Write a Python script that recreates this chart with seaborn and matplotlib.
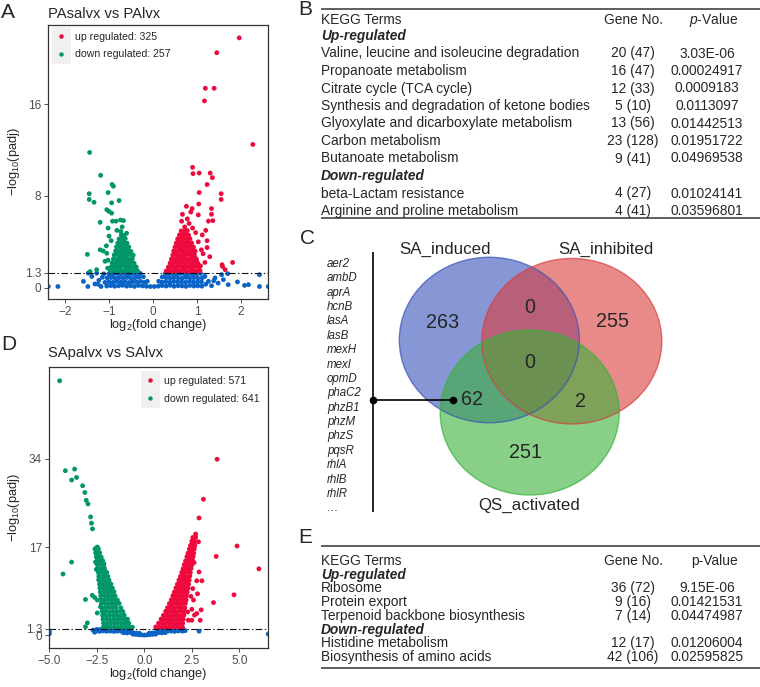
import matplotlib
matplotlib.use("Agg")
import matplotlib.pyplot as plt
import seaborn as sns
import pandas as pd
from matplotlib.patches import Ellipse, Rectangle
from matplotlib.lines import Line2D

# ---------------- data: panel A (PAsalvx vs PAlvx) ----------------
A_ns_x = [-1.05, -0.96, -0.87, -0.78, -0.69, -0.60, -0.51, -0.42, -0.33, -0.24, -0.15, -0.06, 0.03, 0.12, 0.21, 0.30, 0.39, 0.48, 0.57, 0.66, 0.75, 0.84, 0.93, 1.02, 1.11,
          -1.00, -0.91, -0.82, -0.73, -0.64, -0.55, -0.46, -0.37, -0.28, -0.19, -0.13, 0.13, 0.20, 0.29, 0.38, 0.47, 0.56, 0.65, 0.74, 0.83, 0.92, 1.01, 1.10,
          -1.04, -0.95, -0.86, -0.77, -0.68, -0.59, -0.50, -0.41, -0.32, -0.22, 0.21, 0.30, 0.39, 0.48, 0.57, 0.66, 0.75, 0.84, 0.93, 1.02, 1.12,
          -1.00, -0.91, -0.82, -0.73, -0.64, -0.55, -0.46, -0.37, -0.29, 0.28, 0.36, 0.45, 0.54, 0.63, 0.72, 0.81, 0.90, 0.99, 1.08,
          -2.38, -2.16, -1.58, -1.48, -1.39, -1.32, -1.28, -1.23, -1.18, -1.09, -1.47, -1.15, -1.25, -1.12,
          1.18, 1.26, 1.33, 1.41, 1.48, 1.56, 1.70, 1.71, 1.92, 2.08, 2.17, 2.42, 2.42, 2.62, 1.20, 1.38, 1.60]
A_ns_y = [0.14, 0.18, 0.12, 0.16, 0.20, 0.13, 0.17, 0.11, 0.19, 0.15, 0.12, 0.10, 0.10, 0.13, 0.18, 0.14, 0.20, 0.12, 0.17, 0.15, 0.11, 0.19, 0.14, 0.16, 0.13,
          0.50, 0.46, 0.53, 0.48, 0.52, 0.45, 0.51, 0.49, 0.54, 0.47, 0.55, 0.56, 0.48, 0.52, 0.46, 0.53, 0.49, 0.51, 0.47, 0.54, 0.50, 0.48, 0.52,
          0.85, 0.88, 0.82, 0.87, 0.84, 0.89, 0.81, 0.86, 0.90, 0.95, 0.93, 0.86, 0.83, 0.88, 0.85, 0.82, 0.89, 0.84, 0.87, 0.83, 0.86,
          1.20, 1.17, 1.23, 1.19, 1.22, 1.16, 1.21, 1.18, 1.24, 1.22, 1.18, 1.21, 1.16, 1.23, 1.19, 1.22, 1.17, 1.20, 1.24,
          0.10, 0.10, 0.55, 0.10, 0.98, 0.32, 1.27, 0.64, 0.10, 0.46, 1.27, 0.90, 0.30, 1.20,
          0.98, 0.55, 0.17, 0.84, 0.40, 1.13, 1.22, 0.26, 0.50, 0.20, 0.26, 1.13, 0.10, 0.10, 0.30, 0.60, 0.70]

A_down_x = [-1.44, -1.19, -1.45, -1.45, -1.34, -0.93, -0.90, -1.02, -0.77, -0.94, -1.05, -1.00, -0.94, -1.20, -1.02,
            -0.92, -0.84, -0.74, -0.67, -0.70, -0.73, -1.00, -1.49, -1.13, -1.06, -1.09, -1.02, -1.20, -1.43, -1.28,
            -1.03, -0.82, -0.60, -0.95, -1.05,
            -0.97, -0.90, -0.83, -0.76, -0.69, -0.62, -0.55, -0.48, -0.41, -0.35,
            -0.95, -0.87, -0.80, -0.73, -0.66, -0.59, -0.52, -0.45, -0.38,
            -0.93, -0.85, -0.78, -0.71, -0.64, -0.57, -0.50, -0.43,
            -0.90, -0.82, -0.75, -0.68, -0.61, -0.54, -0.47,
            -0.88, -0.80, -0.73, -0.66, -0.59, -0.52, -0.45,
            -0.85, -0.78, -0.71, -0.64, -0.57, -0.50,
            -0.83, -0.76, -0.69, -0.62, -0.55,
            -0.80, -0.73, -0.66, -0.59,
            -0.77, -0.70, -0.63,
            -0.72, -0.66]
A_down_y = [11.8, 9.8, 8.2, 7.7, 7.45, 9.0, 8.85, 8.3, 7.6, 7.4, 6.8, 6.65, 6.5, 5.7, 5.2,
            5.8, 5.8, 5.9, 5.85, 5.3, 4.9, 4.5, 2.9, 3.2, 3.65, 2.3, 2.4, 3.3, 1.4, 1.57,
            1.7, 5.0, 4.75, 4.1, 3.0,
            1.45, 1.50, 1.42, 1.48, 1.44, 1.52, 1.46, 1.41, 1.50, 1.47,
            1.80, 1.84, 1.77, 1.82, 1.86, 1.79, 1.83, 1.78, 1.81,
            2.15, 2.12, 2.18, 2.14, 2.19, 2.11, 2.16, 2.13,
            2.50, 2.47, 2.53, 2.49, 2.52, 2.46, 2.51,
            2.85, 2.88, 2.82, 2.87, 2.84, 2.89, 2.83,
            3.20, 3.17, 3.23, 3.19, 3.22, 3.16,
            3.55, 3.58, 3.52, 3.57, 3.54,
            3.90, 3.87, 3.93, 3.88,
            4.25, 4.22, 4.28,
            4.60, 4.55]

A_up_x = [1.96, 1.45, 1.19, 1.39, 1.17, 2.27, 0.90, 0.91, 1.05, 1.30, 1.35, 1.23, 1.05, 1.55, 0.76,
          0.89, 0.86, 1.04, 1.33, 1.55, 1.33, 1.36, 1.26, 1.03, 0.67, 0.65, 0.82, 1.20, 1.23, 1.23,
          1.29, 1.57, 1.81, 1.64, 1.14, 1.10, 1.03, 0.99, 1.58, 0.72, 0.90, 0.78, 1.12, 0.97, 1.18, 1.08,
          0.30, 0.37, 0.44, 0.51, 0.58, 0.65, 0.72, 0.79, 0.86, 0.93, 1.00, 1.07,
          0.35, 0.42, 0.49, 0.56, 0.63, 0.70, 0.77, 0.84, 0.91, 0.98, 1.05,
          0.39, 0.46, 0.53, 0.60, 0.67, 0.74, 0.81, 0.88, 0.95, 1.02,
          0.42, 0.49, 0.56, 0.63, 0.70, 0.77, 0.84, 0.91, 0.98,
          0.45, 0.52, 0.59, 0.66, 0.73, 0.80, 0.87, 0.94,
          0.47, 0.54, 0.61, 0.68, 0.75, 0.82, 0.89, 0.96,
          0.50, 0.57, 0.64, 0.71, 0.78, 0.85, 0.92,
          0.53, 0.60, 0.67, 0.74, 0.81, 0.88,
          0.56, 0.63, 0.70, 0.77, 0.84,
          0.60, 0.67, 0.74, 0.81,
          0.64, 0.71, 0.78]
A_up_y = [21.8, 20.5, 17.4, 17.4, 16.3, 12.5, 10.5, 9.95, 10.0, 10.0, 9.6, 9.0, 8.3, 8.2, 7.1,
          6.9, 6.6, 7.3, 6.9, 7.7, 6.4, 5.85, 5.8, 6.35, 6.4, 5.8, 5.6, 5.0, 4.1, 3.5,
          2.7, 2.0, 2.2, 1.57, 2.96, 3.3, 4.0, 2.4, 1.85, 5.3, 5.2, 6.0, 4.6, 4.8, 2.2, 1.9,
          1.45, 1.50, 1.42, 1.48, 1.44, 1.52, 1.46, 1.41, 1.50, 1.47, 1.43, 1.49,
          1.80, 1.84, 1.77, 1.82, 1.86, 1.79, 1.83, 1.78, 1.81, 1.85, 1.79,
          2.15, 2.12, 2.18, 2.14, 2.19, 2.11, 2.16, 2.13, 2.17, 2.12,
          2.50, 2.47, 2.53, 2.49, 2.52, 2.46, 2.51, 2.48, 2.54,
          2.85, 2.88, 2.82, 2.87, 2.84, 2.89, 2.83, 2.86,
          3.20, 3.17, 3.23, 3.19, 3.22, 3.16, 3.21, 3.18,
          3.55, 3.58, 3.52, 3.57, 3.54, 3.56, 3.53,
          3.90, 3.87, 3.93, 3.88, 3.92, 3.89,
          4.25, 4.22, 4.28, 4.24, 4.27,
          4.60, 4.57, 4.63, 4.58,
          4.95, 4.92, 4.98]

# ---------------- data: panel D (SApalvx vs SAlvx) ----------------
D_ns_x = [-2.50, -2.31, -2.12, -1.93, -1.74, -1.55, -1.36, -1.17, -0.98, -0.80, 0.80, 0.98, 1.17, 1.36, 1.55, 1.74, 1.93, 2.05,
          -2.55, -2.36, -2.17, -1.98, -1.79, -1.60, -1.41, -1.22, -1.03, -0.86, -0.70, 0.70, 0.86, 1.03, 1.22, 1.41, 1.60, 1.79, 2.00,
          -1.10, -0.92, -0.75, -0.58, -0.42, -0.26, 0.26, 0.42, 0.58, 0.75, 0.92, 1.10,
          -0.60, -0.45, -0.30, -0.15, 0.00, 0.15, 0.30, 0.45, 0.60,
          -5.00, -5.00, 6.52, 2.88, -2.70, -2.62, 2.15]
D_ns_y = [1.15, 1.12, 1.18, 1.14, 1.17, 1.11, 1.16, 1.13, 1.19, 1.10, 1.12, 1.15, 1.18, 1.13, 1.16, 1.11, 1.17, 1.14,
          0.80, 0.76, 0.84, 0.78, 0.82, 0.75, 0.81, 0.79, 0.85, 0.77, 0.74, 0.76, 0.78, 0.83, 0.79, 0.81, 0.77, 0.84, 0.80,
          0.50, 0.46, 0.54, 0.48, 0.44, 0.40, 0.42, 0.45, 0.49, 0.53, 0.47, 0.51,
          0.22, 0.18, 0.12, 0.08, 0.05, 0.09, 0.14, 0.19, 0.23,
          0.30, 0.70, 0.25, 0.80, 1.00, 0.60, 0.90]

D_down_x = [-4.46, -4.16, -3.67, -3.83, -3.57, -3.25, -3.13, -3.06, -2.97, -2.83, -2.78, -2.73, -3.83, -4.28, -3.10, -2.74,
            -3.00, -3.10, -2.57, -2.48, -2.40, -2.57, -2.31, -2.13, -2.53, -2.04, -2.40, -2.31, -2.48, -2.31, -2.13, -2.48, -2.62,
            -2.15, -1.96, -1.77, -1.58, -1.39, -1.20, -1.01, -0.82, -0.63,
            -2.15, -1.96, -1.77, -1.58, -1.39, -1.20, -1.01, -0.82,
            -2.18, -1.99, -1.80, -1.61, -1.42, -1.23, -1.04, -0.89,
            -2.20, -2.01, -1.82, -1.63, -1.44, -1.25, -1.06,
            -2.22, -2.03, -1.84, -1.65, -1.46, -1.27, -1.13,
            -2.25, -2.06, -1.87, -1.68, -1.49, -1.24,
            -2.27, -2.08, -1.89, -1.70, -1.51, -1.33,
            -2.28, -2.10, -1.92, -1.74, -1.56, -1.42,
            -2.30, -2.11, -1.92, -1.73, -1.54,
            -2.32, -2.13, -1.94, -1.76, -1.60,
            -2.34, -2.16, -1.98, -1.82, -1.68,
            -2.36, -2.19, -2.02, -1.88, -1.76,
            -2.38, -2.21, -2.04, -1.86,
            -2.40, -2.23, -2.07, -1.92,
            -2.42, -2.26, -2.11, -1.98,
            -2.45, -2.28, -2.10,
            -2.48, -2.31, -2.14,
            -2.50, -2.35, -2.20,
            -2.53, -2.40, -2.27,
            -2.56, -2.45, -2.35,
            -2.60, -2.42]
D_down_y = [49.0, 31.7, 32.0, 29.9, 30.4, 28.8, 27.5, 26.0, 25.3, 22.8, 21.6, 20.5, 14.1, 11.8, 6.9, 7.7,
            2.4, 1.65, 16.7, 17.0, 15.7, 14.1, 14.1, 13.8, 12.7, 12.2, 10.7, 9.3, 6.8, 5.5, 4.5, 4.3, 7.3,
            1.60, 1.65, 1.58, 1.63, 1.56, 1.62, 1.59, 1.64, 1.57,
            2.35, 2.31, 2.39, 2.33, 2.37, 2.30, 2.36, 2.34,
            3.10, 3.14, 3.06, 3.12, 3.08, 3.15, 3.07, 3.11,
            3.85, 3.81, 3.89, 3.83, 3.87, 3.80, 3.86,
            4.60, 4.64, 4.56, 4.62, 4.58, 4.65, 4.57,
            5.35, 5.31, 5.39, 5.33, 5.37, 5.30,
            6.10, 6.14, 6.06, 6.12, 6.08, 6.15,
            6.85, 6.81, 6.89, 6.83, 6.87, 6.80,
            7.60, 7.64, 7.56, 7.62, 7.58,
            8.35, 8.31, 8.39, 8.33, 8.37,
            9.10, 9.14, 9.06, 9.12, 9.08,
            9.85, 9.81, 9.89, 9.83, 9.87,
            10.60, 10.64, 10.56, 10.62,
            11.35, 11.31, 11.39, 11.33,
            12.10, 12.14, 12.06, 12.12,
            12.85, 12.81, 12.89,
            13.60, 13.64, 13.56,
            14.35, 14.31, 14.39,
            15.10, 15.14, 15.06,
            15.85, 15.81, 15.89,
            16.60, 16.64]

D_up_x = [3.83, 3.11, 2.88, 4.88, 3.78, 6.03, 4.72, 3.64, 3.03, 2.76, 2.88, 2.59, 2.99, 2.64, 2.32,
          2.50, 2.76, 2.94, 2.50, 2.85, 2.70, 2.62, 2.55, 2.45, 2.80, 2.28,
          0.60, 0.78, 0.96, 1.14, 1.32, 1.50, 1.68, 1.86, 2.00,
          0.75, 0.93, 1.11, 1.29, 1.47, 1.65, 1.83, 2.02,
          0.88, 1.05, 1.22, 1.39, 1.56, 1.73, 1.90, 2.05,
          1.00, 1.18, 1.36, 1.54, 1.72, 1.90, 2.08,
          1.12, 1.29, 1.46, 1.63, 1.80, 1.97, 2.10,
          1.22, 1.40, 1.58, 1.76, 1.94, 2.13,
          1.32, 1.49, 1.66, 1.83, 2.00, 2.16,
          1.42, 1.58, 1.74, 1.90, 2.06, 2.20,
          1.50, 1.68, 1.86, 2.04, 2.22,
          1.58, 1.75, 1.92, 2.09, 2.26,
          1.66, 1.82, 1.98, 2.14, 2.30,
          1.74, 1.89, 2.04, 2.19, 2.33,
          1.82, 1.96, 2.10, 2.24, 2.36,
          1.90, 2.05, 2.20, 2.39,
          1.97, 2.12, 2.27, 2.42,
          2.04, 2.18, 2.32, 2.46,
          2.10, 2.24, 2.38, 2.50,
          2.17, 2.30, 2.43, 2.54,
          2.24, 2.40, 2.57,
          2.30, 2.45, 2.60,
          2.37, 2.50, 2.63,
          2.43, 2.55, 2.66,
          2.50, 2.68,
          2.55, 2.70]
D_up_y = [33.9, 26.2, 22.6, 17.2, 15.2, 12.8, 7.8, 6.3, 10.5, 10.5, 12.2, 6.8, 4.9, 3.9, 2.9,
          5.0, 4.2, 2.9, 2.9, 18.0, 19.5, 14.0, 9.0, 7.5, 8.0, 4.5,
          1.62, 1.58, 1.64, 1.57, 1.63, 1.59, 1.65, 1.56, 1.61,
          2.33, 2.37, 2.31, 2.38, 2.34, 2.30, 2.36, 2.32,
          3.12, 3.08, 3.14, 3.06, 3.11, 3.15, 3.07, 3.10,
          3.83, 3.87, 3.81, 3.88, 3.84, 3.80, 3.86,
          4.62, 4.58, 4.64, 4.56, 4.61, 4.65, 4.57,
          5.33, 5.37, 5.31, 5.38, 5.34, 5.30,
          6.12, 6.08, 6.14, 6.06, 6.11, 6.15,
          6.83, 6.87, 6.81, 6.88, 6.84, 6.80,
          7.62, 7.58, 7.64, 7.56, 7.61,
          8.33, 8.37, 8.31, 8.38, 8.34,
          9.12, 9.08, 9.14, 9.06, 9.11,
          9.83, 9.87, 9.81, 9.88, 9.84,
          10.62, 10.58, 10.64, 10.56, 10.61,
          11.33, 11.37, 11.31, 11.38,
          12.12, 12.08, 12.14, 12.06,
          12.83, 12.87, 12.81, 12.88,
          13.62, 13.58, 13.64, 13.56,
          14.33, 14.37, 14.31, 14.38,
          15.12, 15.08, 15.14,
          15.83, 15.87, 15.81,
          16.62, 16.58, 16.64,
          17.33, 17.37, 17.31,
          18.12, 18.08,
          18.83, 18.87]

A_legend = ["up regulated: 325", "down regulated: 257"]
D_legend = ["up regulated: 571", "down regulated: 641"]
A_xticks = [-2, -1, 0, 1, 2]
A_yticks = [0, 1.3, 8, 16]
D_xticks = [-5.0, -2.5, 0.0, 2.5, 5.0]
D_yticks = [0, 1.3, 17, 34]
THRESH = 1.3

# ---------------- data: tables ----------------
B_terms = ["Valine, leucine and isoleucine degradation", "Propanoate metabolism", "Citrate cycle (TCA cycle)",
           "Synthesis and degradation of ketone bodies", "Glyoxylate and dicarboxylate metabolism",
           "Carbon metabolism", "Butanoate metabolism", "beta-Lactam resistance", "Arginine and proline metabolism"]
B_genes = ["20 (47)", "16 (47)", "12 (33)", "5 (10)", "13 (56)", "23 (128)", "9 (41)", "4 (27)", "4 (41)"]
B_pvals = ["3.03E-06", "0.00024917", "0.0009183", "0.0113097", "0.01442513", "0.01951722", "0.04969538",
           "0.01024141", "0.03596801"]
B_dir = ["up", "up", "up", "up", "up", "up", "up", "down", "down"]

E_terms = ["Ribosome", "Protein export", "Terpenoid backbone biosynthesis", "Histidine metabolism",
           "Biosynthesis of amino acids"]
E_genes = ["36 (72)", "9 (16)", "7 (14)", "12 (17)", "42 (106)"]
E_pvals = ["9.15E-06", "0.01421531", "0.04474987", "0.01206004", "0.02595825"]
E_dir = ["up", "up", "up", "down", "down"]

# ---------------- data: Venn ----------------
venn_sets = ["SA_induced", "SA_inhibited", "QS_activated"]
venn_counts = [263, 0, 255, 0, 62, 2, 251]   # induced only, ind&inh, inhibited only, all, ind&QS, inh&QS, QS only
venn_genes = ["aer2", "ambD", "aprA", "hcnB", "lasA", "lasB", "mexH", "mexI", "opmD", "phaC2",
              "phzB1", "phzM", "phzS", "pqsR", "rhlA", "rhlB", "rhlR", "\u2026"]

# ---------------- style ----------------
sns.set_style("white")
plt.rcParams['font.family'] = ['Liberation Sans', 'DejaVu Sans']
plt.rcParams['mathtext.fontset'] = 'custom'
plt.rcParams['mathtext.rm'] = 'Liberation Sans'
plt.rcParams['mathtext.it'] = 'Liberation Sans:italic'
plt.rcParams['mathtext.bf'] = 'Liberation Sans:bold'

RED, GREEN, BLUE = "#EE0A3C", "#009668", "#0A64C8"
DPI = 100
W, H = 760, 687
LEG_FS = 7.6
TICK_FS = 8.5
LAB_FS = 9.2
TAB_FS = 9.9

fig = plt.figure(figsize=(W / DPI, H / DPI), dpi=DPI)
ov = fig.add_axes([0, 0, 1, 1])
ov.set_xlim(0, W)
ov.set_ylim(H, 0)
ov.axis('off')


def px_axes(l, t, r, b):
    return fig.add_axes([l / W, 1 - b / H, (r - l) / W, (b - t) / H])


def volcano(ax, ns, down, up, xlim, ylim, xticks, xticklabels, yticks, yticklabels, leg_labels, leg_anchor,
            xlab_off, ylab_off):
    frames = []
    for name, (xs, ys) in (("ns", ns), ("down", down), ("up", up)):
        frames.append(pd.DataFrame({"log2fc": xs, "padj": ys, "group": name}))
    df = pd.concat(frames, ignore_index=True)
    sns.scatterplot(data=df, x="log2fc", y="padj", hue="group", hue_order=["ns", "down", "up"],
                    palette=[BLUE, GREEN, RED], s=12, linewidth=0, alpha=1, legend=False, ax=ax)
    ax.axhline(THRESH, color="#111111", lw=0.8, ls=(0, (6, 2.2, 1.2, 2.2)), zorder=3)
    ax.set_xlim(*xlim)
    ax.set_ylim(*ylim)
    ax.set_xticks(xticks)
    ax.set_xticklabels(xticklabels)
    ax.set_yticks(yticks)
    ax.set_yticklabels(yticklabels)
    ax.tick_params(axis='both', bottom=True, left=True, length=3.0, width=0.6, color='#333333',
                   labelcolor='#4D4D4D', labelsize=TICK_FS, pad=2)
    for sp in ax.spines.values():
        sp.set_color('#333333')
        sp.set_linewidth(0.9)
        sp.set_visible(True)
    ax.set_xlabel("log$_2$(fold change)", fontsize=LAB_FS, va='center')
    ax.set_ylabel("\u2212log$_{10}$(padj)", fontsize=LAB_FS, va='center')
    ax.xaxis.set_label_coords(0.5, xlab_off)
    ax.yaxis.set_label_coords(ylab_off, 0.5)
    handles = [Line2D([], [], ls='', marker='o', markersize=3.2, markerfacecolor=c, markeredgewidth=0)
               for c in (RED, GREEN)]
    leg = ax.legend(handles, leg_labels, loc='upper left', bbox_to_anchor=leg_anchor, frameon=False,
                    fontsize=LEG_FS, handlelength=1.8, handletextpad=0.38, labelspacing=0.72,
                    borderpad=0, borderaxespad=0)
    leg.set_zorder(6)
    return leg


def legend_keys(ax, leg):
    fig.canvas.draw()
    r = fig.canvas.get_renderer()
    fs_px = LEG_FS * DPI / 72
    inv = ax.transAxes.inverted()
    for t in leg.get_texts():
        bb = t.get_window_extent(r)
        x1 = bb.x0 - 0.38 * fs_px
        x0 = x1 - 1.8 * fs_px
        yc = 0.5 * (bb.y0 + bb.y1)
        a0 = inv.transform((x0, yc - 9.5))
        a1 = inv.transform((x1, yc + 9.5))
        ax.add_patch(Rectangle((a0[0], a0[1]), a1[0] - a0[0], a1[1] - a0[1], transform=ax.transAxes,
                               facecolor='#F0F0F0', edgecolor='none', zorder=5, clip_on=False))


# ---------------- panel A ----------------
axA = px_axes(48, 25, 268, 299)
legA = volcano(axA, (A_ns_x, A_ns_y), (A_down_x, A_down_y), (A_up_x, A_up_y),
               (-2.386, 2.614), (-0.99, 22.92), A_xticks, ["\u22122", "\u22121", "0", "1", "2"],
               A_yticks, ["0", "1.3", "8", "16"], A_legend, (0.018, 0.975), -26 / 274, -34 / 220)

# ---------------- panel D ----------------
axD = px_axes(49, 367, 268, 648)
legD = volcano(axD, (D_ns_x, D_ns_y), (D_down_x, D_down_y), (D_up_x, D_up_y),
               (-5.02, 6.51), (-2.44, 51.66), D_xticks, ["\u22125.0", "\u22122.5", "0.0", "2.5", "5.0"],
               D_yticks, ["0", "1.3", "17", "34"], D_legend, (0.42, 0.968), -25.5 / 281, -35 / 219)

legend_keys(axA, legA)
legend_keys(axD, legD)

# ---------------- titles and panel letters ----------------
ov.text(48, 17.5, "PAsalvx vs PAlvx", fontsize=10.6, va='baseline', ha='left')
ov.text(48, 357, "SApalvx vs SAlvx", fontsize=10.6, va='baseline', ha='left')
for letter, x, y in (("A", 1, 18.5), ("B", 298, 15), ("C", 300, 244), ("D", 1, 350), ("E", 298, 543)):
    ov.text(x, y, letter, fontsize=15, va='baseline', ha='left')


# ---------------- tables ----------------
def table(top_line, bottom_line, header_y, row_y0, row_step, terms, genes, pvals, dirs, italic_p):
    x0, x1 = 321, 760
    xg, xp, xph = 633, 707, 714
    ov.plot([x0, x1], [top_line, top_line], color='#333333', lw=1.1, solid_capstyle='butt')
    ov.plot([x0, x1], [bottom_line, bottom_line], color='#333333', lw=1.1, solid_capstyle='butt')
    ov.text(x0, header_y, "KEGG Terms", fontsize=TAB_FS, va='center', ha='left')
    ov.text(xg, header_y, "Gene No.", fontsize=TAB_FS, va='center', ha='center')
    ov.text(xph, header_y, r"$\mathit{p}$-Value" if italic_p else "p-Value", fontsize=TAB_FS,
            va='center', ha='center')
    y = row_y0
    prev = None
    for term, g, p, d in zip(terms, genes, pvals, dirs):
        if d != prev:
            ov.text(x0, y, "Up-regulated" if d == "up" else "Down-regulated", fontsize=TAB_FS,
                    fontweight='bold', style='italic', va='center', ha='left')
            y += row_step
            prev = d
        ov.text(x0, y, term, fontsize=TAB_FS, va='center', ha='left')
        ov.text(xg, y, g, fontsize=TAB_FS, va='center', ha='center')
        ov.text(xp, y, p, fontsize=TAB_FS, va='center', ha='center')
        y += row_step


table(8.5, 218, 20, 36, 17.5, B_terms, B_genes, B_pvals, B_dir, True)
table(546, 668, 561, 574.5, 13.8, E_terms, E_genes, E_pvals, E_dir, False)

# ---------------- Venn ----------------
venn_fc = ["#3752B9", "#D93C3C", "#39B139"]
venn_geom = [(489.3, 340.0, 180, 165.5), (571.8, 341.2, 180, 165.5), (529.7, 412.5, 179, 165)]
for (cx, cy, w, h), c in zip(venn_geom, venn_fc):
    ov.add_patch(Ellipse((cx, cy), w, h, facecolor=c, alpha=0.6, edgecolor='none'))
for (cx, cy, w, h), c in zip(venn_geom, venn_fc):
    ov.add_patch(Ellipse((cx, cy), w, h, facecolor='none', edgecolor=c, alpha=0.7, lw=1.0))

count_pos = [(442.7, 322), (530, 307.5), (612.7, 321.7), (530, 362.5), (471.7, 399.5), (580, 401.7), (525.7, 453)]
for (x, y), n in zip(count_pos, venn_counts):
    ov.text(x, y, str(n), fontsize=14.2, ha='center', va='center')
for (x, y), name in zip([(445, 249), (605.5, 249), (529, 505)], venn_sets):
    ov.text(x, y, name, fontsize=12.2, ha='center', va='center')

for i, g in enumerate(venn_genes):
    ov.text(327, 264 + i * 14.37, g, fontsize=8.3, style='italic', ha='left', va='center')
ov.plot([373.3, 373.3], [252, 512], color='black', lw=1.2, solid_capstyle='butt')
ov.plot([373.3, 452.7], [400.3, 400.3], color='black', lw=1.2, marker='o', markersize=4.5)

fig.savefig("out.png", dpi=DPI)
